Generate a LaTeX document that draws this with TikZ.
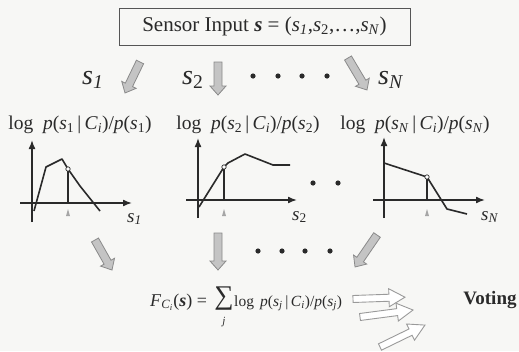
\documentclass[tikz,border=0pt]{standalone}
\usepackage{fontspec}
\setmainfont{Liberation Serif}
\usetikzlibrary{arrows.meta}
\definecolor{bgcol}{HTML}{F7F7F5}
\definecolor{ink}{HTML}{2A2A2A}
\definecolor{boxcol}{HTML}{555555}
\definecolor{gfill}{HTML}{C4C4C4}
\definecolor{gline}{HTML}{8A8A8A}
\definecolor{oline}{HTML}{9A9A9A}
\newcommand{\vi}[1]{\textit{#1}}
\newcommand{\fs}[1]{\fontsize{#1}{#1}\selectfont}
\begin{document}
\begin{tikzpicture}[x=1pt,y=-1pt,
  txt/.style={text=ink, inner sep=0pt},
  axisline/.style={draw=ink, line width=1.6pt, -{Latex[length=9pt,width=7pt]}},
  curveline/.style={draw=ink, line width=1.6pt, line join=round},
  markline/.style={draw=ink, line width=1.6pt},
  garrow/.style={draw=gline, fill=gfill, line width=0.8pt, line join=miter},
  oarrow/.style={draw=oline, fill=white, line width=0.9pt},
  dotmark/.style={fill=ink, draw=none},
  pt/.style={fill=white, draw=ink, line width=0.7pt},
  tri/.style={fill=gray!70, draw=none},
  pics/blockarrow/.style n args={4}{code={
    \path[pic actions] (0,-#2) -- ({#1-#4},-#2) -- ({#1-#4},-#3) -- (#1,0)
      -- ({#1-#4},#3) -- ({#1-#4},#2) -- (0,#2) -- cycle;
  }}]
\fill[bgcol] (0,0) rectangle (519,351);
\useasboundingbox (0,0) rectangle (519,351);

% title box
\node[txt, draw=boxcol, line width=0.9pt, minimum width=291pt, minimum height=37pt,
  font=\fs{21}] (title) at (264.5,26.5)
  {Sensor Input \textbf{\vi{s}} = (\vi{s}\textsubscript{\vi{1}},\vi{s}\textsubscript{2},…,\vi{s}\textsubscript{\vi{N}})};

% big sensor labels
\node[txt, font=\fs{28}, anchor=base west] (l1) at (82,84) {\vi{s}\textsubscript{\vi{1}}};
\node[txt, font=\fs{28}, anchor=base west] (l2) at (182,84) {\vi{s}\textsubscript{2}};
\node[txt, font=\fs{28}, anchor=base west] (lN) at (378,84) {\vi{s}\textsubscript{\vi{N}}};

% top gray arrows
\pic[garrow, rotate=244.2] (ta1) at (140,62) {blockarrow={34.4}{4}{8}{9}};
\pic[garrow, rotate=270] (ta2) at (218,62) {blockarrow={33}{4}{8}{9}};
\pic[garrow, rotate=300.7] (taN) at (348,58) {blockarrow={37.2}{4}{8}{9}};

% top dots
\foreach \x in {253,278,302,327}
  \fill[dotmark] (\x,76) circle (2.6);

% log labels
\node[txt, font=\fs{19.5}] (g1) at (80,125)
  {log\ \ \vi{p}(\vi{s}\textsubscript{1}\,|\,\vi{C}\textsubscript{\vi{i}})/\vi{p}(\vi{s}\textsubscript{1})};
\node[txt, font=\fs{19.5}] (g2) at (248,125)
  {log\ \ \vi{p}(\vi{s}\textsubscript{2}\,|\,\vi{C}\textsubscript{\vi{i}})/\vi{p}(\vi{s}\textsubscript{2})};
\node[txt, font=\fs{19.5}] (gN) at (415,125)
  {log\ \ \vi{p}(\vi{s}\textsubscript{\vi{N}}\,|\,\vi{C}\textsubscript{\vi{i}})/\vi{p}(\vi{s}\textsubscript{\vi{N}})};

% graph 1
\draw[axisline] (32,222) -- (32,140);
\draw[axisline] (20,203) -- (132,203);
\draw[curveline] (34,211) -- (46,167) -- (62,159) -- (68,169) -- (80,186) -- (100,211);
\draw[markline] (68,169) -- (68,203);
\fill[tri] (66,216) -- (70,216) -- (68,209) -- cycle;
\fill[pt] (68,169) circle (2.2);
\node[txt, font=\fs{19}, anchor=base west] (x1) at (127,222) {\vi{s}\textsubscript{\vi{1}}};

% graph 2
\draw[axisline] (198,218) -- (198,138);
\draw[axisline] (186,200) -- (297,200);
\draw[curveline] (199,207) -- (224,167) -- (228,163) -- (245,154) -- (273,165) -- (290,165);
\draw[markline] (224,167) -- (224,200);
\fill[tri] (222,216) -- (226,216) -- (224,209) -- cycle;
\fill[pt] (224,167) circle (2.2);
\node[txt, font=\fs{19}, anchor=base west] (x2) at (292,220) {\vi{s}\textsubscript{2}};

% middle dots
\fill[dotmark] (313,183) circle (2.6);
\fill[dotmark] (338,183) circle (2.6);

% graph 3
\draw[axisline] (384,218) -- (384,137);
\draw[axisline] (373,200) -- (485,200);
\draw[curveline] (384,163) -- (427,177) -- (447,209) -- (467,214);
\draw[markline] (427,177) -- (427,200);
\fill[tri] (425,216) -- (429,216) -- (427,209) -- cycle;
\fill[pt] (427,177) circle (2.2);
\node[txt, font=\fs{19}, anchor=base west] (xN) at (481,220) {\vi{s}\textsubscript{\vi{N}}};

% bottom gray arrows
\pic[garrow, rotate=299.5] (ba1) at (95,240) {blockarrow={34.5}{4}{8}{9}};
\pic[garrow, rotate=270] (ba2) at (218,233) {blockarrow={37}{4}{8}{9}};
\pic[garrow, rotate=235.5] (baN) at (377,235) {blockarrow={38.8}{4}{8}{9}};

% bottom dots
\foreach \x in {258,282,305,330}
  \fill[dotmark] (\x,251) circle (2.6);

% formula
\node[txt, font=\fs{18}, anchor=base west] (fl) at (150,306)
  {\vi{F}\textsubscript{\vi{C}\textsubscript{\vi{i}}}(\textbf{\vi{s}}) =};
\node[txt, font=\fs{27}] (fsum) at (224,299) {∑};
\node[txt, font=\fs{11}] (fj) at (224,322) {\vi{j}};
\node[txt, font=\fs{15.5}, anchor=base west] (fr) at (234,306)
  {log\hspace{0.4em}\vi{p}(\vi{s}\textsubscript{\vi{j}}\,|\,\vi{C}\textsubscript{\vi{i}})/\vi{p}(\vi{s}\textsubscript{\vi{j}})};

% voting arrows
\pic[oarrow, rotate=2] (va) at (353,299) {blockarrow={52}{3.5}{9}{16}};
\pic[oarrow, rotate=7.5] (vb) at (360,317) {blockarrow={53.5}{3.5}{9}{16}};
\pic[oarrow, rotate=26] (vc) at (380,347) {blockarrow={50}{3.5}{9}{16}};

\node[txt, font=\fs{19}\bfseries] (vote) at (490,300) {Voting};
\end{tikzpicture}
\end{document}
